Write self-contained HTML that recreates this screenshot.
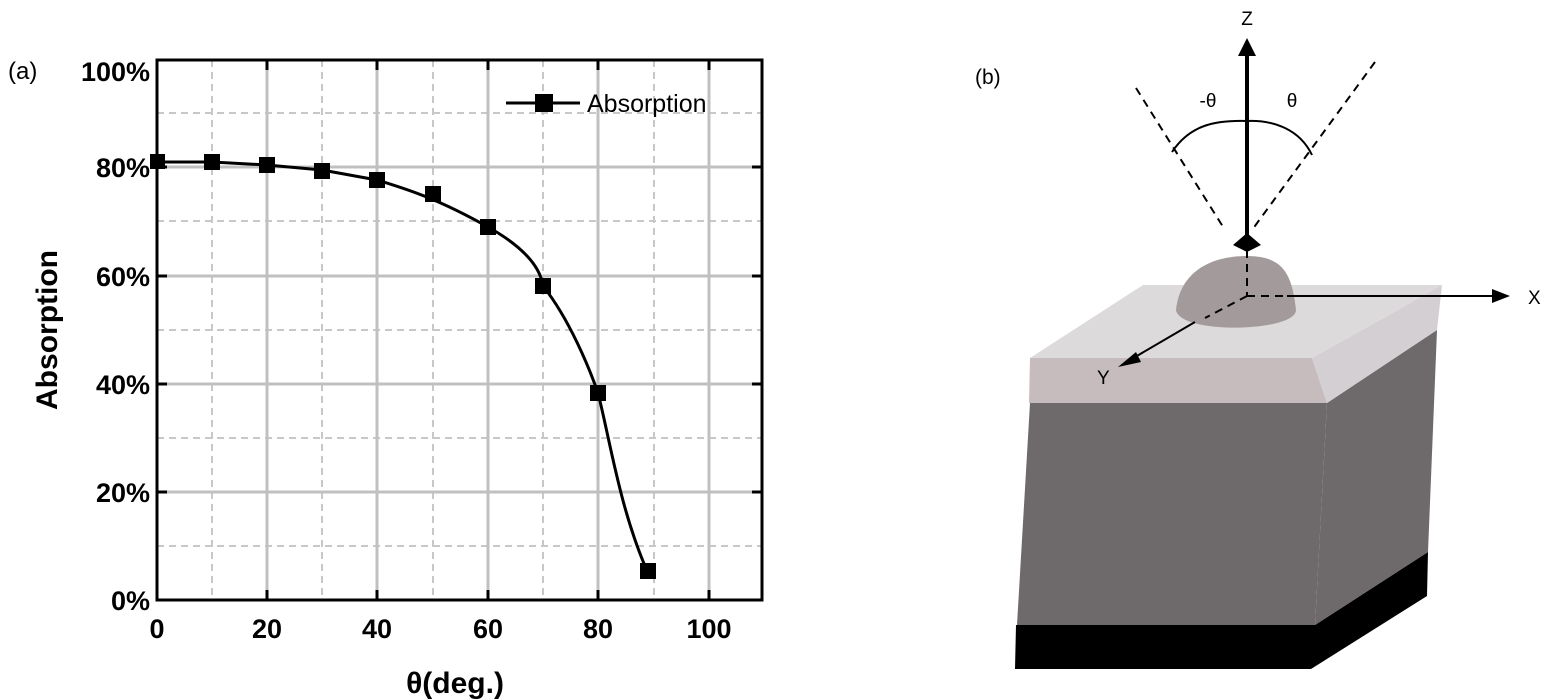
<!DOCTYPE html>
<html><head><meta charset="utf-8"><style>
html,body{margin:0;padding:0;background:#fff;}
svg{display:block;font-family:"Liberation Sans",sans-serif;}
</style></head><body>
<svg width="1551" height="700" viewBox="0 0 1551 700">
<!-- grid -->
<g stroke="#c8c8c8" stroke-width="2" stroke-dasharray="7,5">
<line x1="212" y1="60" x2="212" y2="600"/><line x1="322" y1="60" x2="322" y2="600"/>
<line x1="433" y1="60" x2="433" y2="600"/><line x1="543" y1="60" x2="543" y2="600"/>
<line x1="654" y1="60" x2="654" y2="600"/>
<line x1="157" y1="113" x2="762" y2="113"/><line x1="157" y1="221" x2="762" y2="221"/>
<line x1="157" y1="330" x2="762" y2="330"/><line x1="157" y1="438" x2="762" y2="438"/>
<line x1="157" y1="546" x2="762" y2="546"/>
</g>
<g stroke="#c0c0c0" stroke-width="3">
<line x1="267" y1="60" x2="267" y2="600"/><line x1="377" y1="60" x2="377" y2="600"/>
<line x1="488" y1="60" x2="488" y2="600"/><line x1="598" y1="60" x2="598" y2="600"/>
<line x1="709" y1="60" x2="709" y2="600"/>
<line x1="157" y1="167" x2="762" y2="167"/><line x1="157" y1="276" x2="762" y2="276"/>
<line x1="157" y1="384" x2="762" y2="384"/><line x1="157" y1="492" x2="762" y2="492"/>
</g>
<rect x="157" y="60" width="605" height="540" fill="none" stroke="#000" stroke-width="3"/>
<g stroke="#000" stroke-width="3">
<line x1="267" y1="60" x2="267" y2="70"/><line x1="377" y1="60" x2="377" y2="70"/><line x1="488" y1="60" x2="488" y2="70"/><line x1="598" y1="60" x2="598" y2="70"/><line x1="709" y1="60" x2="709" y2="70"/>
<line x1="267" y1="600" x2="267" y2="590"/><line x1="377" y1="600" x2="377" y2="590"/><line x1="488" y1="600" x2="488" y2="590"/><line x1="598" y1="600" x2="598" y2="590"/><line x1="709" y1="600" x2="709" y2="590"/>
<line x1="157" y1="167" x2="167" y2="167"/><line x1="157" y1="276" x2="167" y2="276"/><line x1="157" y1="384" x2="167" y2="384"/><line x1="157" y1="492" x2="167" y2="492"/>
<line x1="762" y1="167" x2="752" y2="167"/><line x1="762" y1="276" x2="752" y2="276"/><line x1="762" y1="384" x2="752" y2="384"/><line x1="762" y1="492" x2="752" y2="492"/>
</g>
<path d="M157,162 L212,162 L267,165 L322,170 L377,180 C410,190 440,200 488,227 C520,245 540,265 543,286 C570,320 590,370 598,393 C610,440 620,510 648,573" fill="none" stroke="#000" stroke-width="3"/>
<g fill="#000">
<rect x="150" y="154" width="15" height="15"/><rect x="204" y="154" width="16" height="16"/>
<rect x="259" y="157" width="16" height="16"/><rect x="314" y="163" width="16" height="16"/>
<rect x="369" y="172" width="16" height="16"/><rect x="425" y="186" width="16" height="16"/>
<rect x="480" y="219" width="16" height="16"/><rect x="535" y="278" width="16" height="16"/>
<rect x="590" y="385" width="16" height="16"/><rect x="640" y="563" width="16" height="16"/>
</g>
<line x1="506" y1="103" x2="580" y2="103" stroke="#000" stroke-width="3"/>
<rect x="535" y="94" width="18" height="18" fill="#000"/>
<text x="587" y="112" font-size="25">Absorption</text>
<text x="8" y="79" font-size="24">(a)</text>
<g font-size="27" font-weight="bold" text-anchor="end">
<text x="150" y="81">100%</text><text x="150" y="177">80%</text><text x="150" y="286">60%</text>
<text x="150" y="394">40%</text><text x="150" y="502">20%</text><text x="150" y="610">0%</text>
</g>
<g font-size="27" font-weight="bold" text-anchor="middle">
<text x="157" y="638">0</text><text x="267" y="638">20</text><text x="377" y="638">40</text>
<text x="488" y="638">60</text><text x="598" y="638">80</text><text x="709" y="638">100</text>
<text x="455" y="693" font-size="30">θ(deg.)</text>
</g>
<text transform="translate(57,330) rotate(-90)" font-size="30" font-weight="bold" text-anchor="middle">Absorption</text>
<!-- panel b -->
<text x="975" y="84" font-size="21">(b)</text>
<polygon points="1016,625 1315,625 1428,552 1427,596 1311,669 1015,669" fill="#000"/>
<polygon points="1030,403 1327,403 1315,625 1017,625" fill="#6e696b"/>
<polygon points="1327,403 1437,330 1428,552 1315,625" fill="#6e696b"/>
<polygon points="1030,358 1312,358 1327,403 1029,403" fill="#c6bcbd"/>
<polygon points="1312,358 1442,285 1437,330 1327,403" fill="#d4cfd3"/>
<polygon points="1030,358 1143,285 1442,285 1312,358" fill="#dcdadb"/>
<path d="M1176,310 C1180,272 1210,256 1247,256 C1284,256 1292,275 1296,310 C1296,332 1180,335 1176,310Z" fill="#a39b9b"/>
<g stroke="#000" stroke-width="2" stroke-dasharray="8,6" fill="none">
<line x1="1136" y1="88" x2="1225" y2="230"/><line x1="1375" y1="62" x2="1252" y2="230"/>
<line x1="1247" y1="250" x2="1247" y2="296"/><line x1="1247" y1="296" x2="1287" y2="296"/>
<line x1="1247" y1="296" x2="1205" y2="318"/>
</g>
<path d="M1172,152 C1190,125 1215,120 1247,121 C1275,120 1300,130 1312,155" fill="none" stroke="#000" stroke-width="2"/>
<line x1="1247" y1="45" x2="1247" y2="245" stroke="#000" stroke-width="4"/>
<polygon points="1247,38 1238,56 1256,56" fill="#000"/>
<polygon points="1247,233 1233,245 1247,252 1261,245" fill="#000"/>
<line x1="1287" y1="296" x2="1500" y2="296" stroke="#000" stroke-width="2"/>
<polygon points="1510,296 1492,289 1492,303" fill="#000"/>
<line x1="1195" y1="322" x2="1130" y2="360" stroke="#000" stroke-width="2"/>
<polygon points="1118,367 1136,352 1141,362" fill="#000"/>
<text x="1247" y="25" font-size="19" text-anchor="middle">Z</text>
<text x="1528" y="304" font-size="19">X</text>
<text x="1097" y="384" font-size="19">Y</text>
<text x="1208" y="107" font-size="19" text-anchor="middle">-θ</text>
<text x="1292" y="107" font-size="19" text-anchor="middle">θ</text>
</svg>
</body></html>
